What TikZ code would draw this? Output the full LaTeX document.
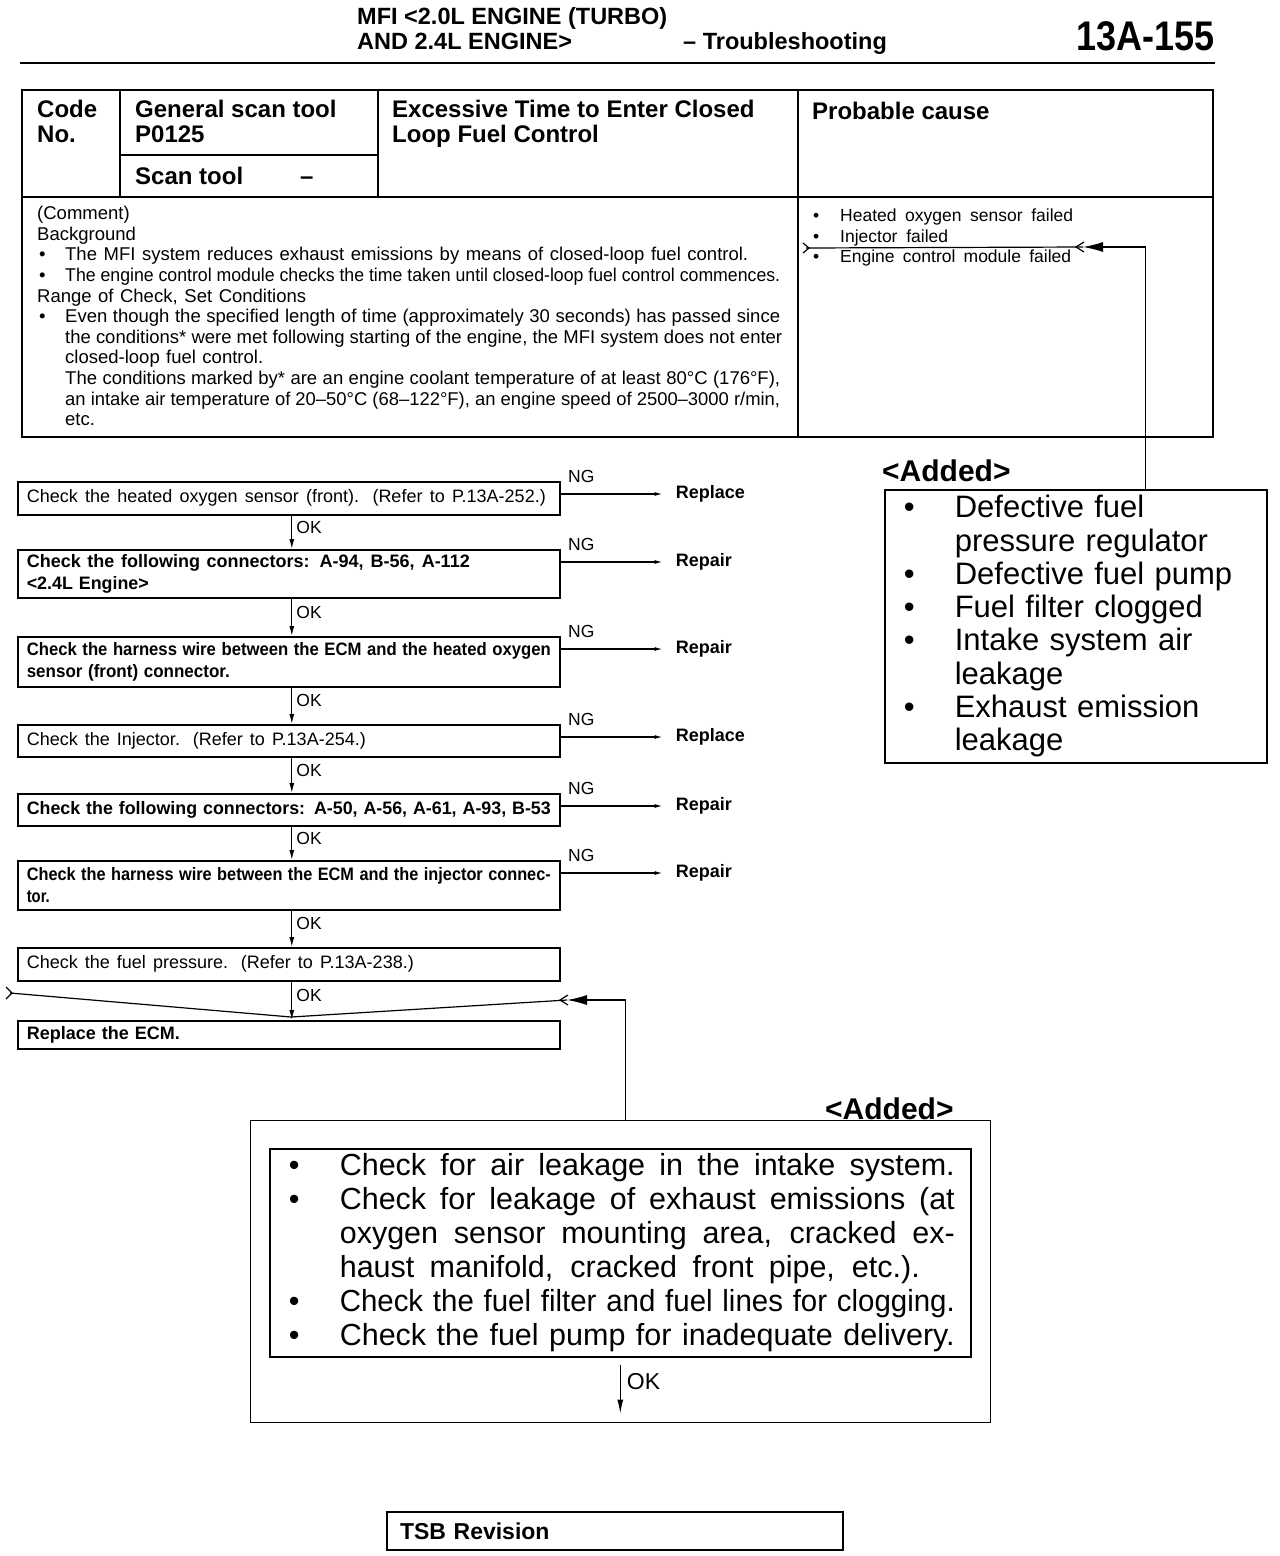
\documentclass[tikz,border=0pt]{standalone}
\usepackage{fontspec}
\setmainfont{Liberation Sans}
\usepackage{graphicx}
\usetikzlibrary{arrows.meta,calc}

\newlength\jlw
% set one printed line to a given width (spread the spaces, or squeeze)
\newcommand\jl[2]{\settowidth\jlw{#2}\ifdim\jlw>#1pt\resizebox{#1pt}{\height}{#2}\else\makebox[#1pt][s]{\spaceskip=0pt\xspaceskip=0pt #2}\fi}
\newcommand\itm[2]{\makebox[#1][l]{\hspace*{#2}\textbullet}}

\tikzset{
  ttl/.style={inner sep=0pt, anchor=base west, font=\bfseries\fontsize{23.5}{24}\selectfont},
  hd/.style={inner sep=0pt, anchor=base west, font=\bfseries\fontsize{24}{25}\selectfont},
  note/.style={inner sep=0pt, anchor=north west, align=left},
  tbl/.style={line width=1.8pt},
  chk/.style={draw, line width=1.6pt, anchor=north west, minimum width=542pt, text width=524pt,
    inner xsep=9pt, inner ysep=0pt, align=left, font=\fontsize{18}{21.5}\selectfont},
  chkb/.style={chk, font=\bfseries\fontsize{18}{21.5}\selectfont},
  okarrow/.style={-{Latex[length=10pt,width=5pt]}, line width=1.2pt},
  ngarrow/.style={-{Latex[length=8pt,width=4pt]}, line width=1.2pt, shorten >=13pt},
  lbl/.style={inner sep=0pt, font=\fontsize{17.5}{18}\selectfont},
  act/.style={inner sep=0pt, anchor=west, font=\bfseries\fontsize{18}{18}\selectfont},
  addbox/.style={draw, line width=1.6pt, anchor=north west, inner xsep=7pt, inner ysep=0pt, align=left},
  addlbl/.style={inner sep=0pt, anchor=base west, font=\bfseries\fontsize{30}{30}\selectfont},
  insmark/.style={line width=1.2pt}
}

\begin{document}
\begin{tikzpicture}[x=1pt, y=-1pt]
\fill[white] (0,0) rectangle (1280,1556);
\useasboundingbox (0,0) rectangle (1280,1556);

% Page header
\node[ttl] (head1) at (357,24) {MFI <2.0L ENGINE (TURBO)};
\node[ttl] (head2) at (357,49) {AND 2.4L ENGINE>};
\node[ttl] (head3) at (683,49) {– Troubleshooting};
\node[inner sep=0pt, anchor=base east, font=\bfseries\fontsize{36}{36}\selectfont] (page) at (1215,50) {\scalebox{1}[1.15]{13A-155}};
\draw[line width=2.5pt] (20,63) -- (1215,63);

% Code table
\draw[tbl] (22,90) rectangle (1213,437);
\draw[tbl] (22,197) -- (1213,197);
\draw[tbl] (120,90) -- (120,197) (378,90) -- (378,197) (798,90) -- (798,437);
\draw[tbl] (120,155) -- (378,155);
\node[hd] (code1) at (37,117) {Code};
\node[hd] (code2) at (37,142) {No.};
\node[hd] (gen1) at (135,117) {General scan tool};
\node[hd] (gen2) at (135,142) {P0125};
\node[hd] (scan1) at (135,184) {Scan tool};
\node[hd] (scan2) at (300,184) {–};
\node[hd] (title1) at (392,117) {Excessive Time to Enter Closed};
\node[hd] (title2) at (392,142) {Loop Fuel Control};
\node[hd] (cause) at (812,119) {Probable cause};

% Comment
\node[note, font=\fontsize{18.5}{20.6}\selectfont] (comment) at (37,206) {%
(Comment)\\
Background\\
\itm{28pt}{2pt}\jl{683}{The MFI system reduces exhaust emissions by means of closed-loop fuel control.}\\
\itm{28pt}{2pt}\jl{715}{The engine control module checks the time taken until closed-loop fuel control commences.}\\
\jl{269}{Range of Check, Set Conditions}\\
\itm{28pt}{2pt}\jl{715}{Even though the specified length of time (approximately 30 seconds) has passed since}\\
\hspace*{28pt}\jl{717}{the conditions* were met following starting of the engine, the MFI system does not enter}\\
\hspace*{28pt}\jl{198}{closed-loop fuel control.}\\
\hspace*{28pt}\jl{715}{The conditions marked by* are an engine coolant temperature of at least 80°C (176°F),}\\
\hspace*{28pt}\jl{715}{an intake air temperature of 20–50°C (68–122°F), an engine speed of 2500–3000 r/min,}\\
\hspace*{28pt}etc.};

% Probable causes
\node[note, font=\fontsize{17.5}{20.5}\selectfont] (causes) at (808,209) {%
\itm{32pt}{5pt}\jl{233}{Heated oxygen sensor failed}\\
\itm{32pt}{5pt}\jl{108}{Injector failed}\\
\itm{32pt}{5pt}\jl{231}{Engine control module failed}};

% Added causes
\node[addlbl] (added1) at (882,481) {<Added>};
\node[addbox, minimum width=382pt, minimum height=273pt, text width=368pt,
  font=\fontsize{31}{33.3}\selectfont] (extra) at (884,489) {%
\itm{63pt}{12pt}Defective fuel\\
\hspace*{63pt}pressure regulator\\
\itm{63pt}{12pt}Defective fuel pump\\
\itm{63pt}{12pt}Fuel filter clogged\\
\itm{63pt}{12pt}Intake system air\\
\hspace*{63pt}leakage\\
\itm{63pt}{12pt}Exhaust emission\\
\hspace*{63pt}leakage};

\coordinate (insL) at (806,248);
\coordinate (insR) at (1083,247);
\draw[insmark, -{Latex[length=20pt,width=10pt]}] ([xshift=70pt]extra.north) |- (insR);
\draw[insmark] (insR) -- (insL);
\draw[insmark] ([xshift=1pt]insR) ++(0,-5) -- ++(-8,5) -- ++(8,5);
\draw[insmark] (insL) ++(-3,-5) -- ++(6,5) -- ++(-6,5);

% Check sequence
\node[chk, minimum height=33pt] (c1) at (17,481) {\jl{519}{Check the heated oxygen sensor (front). (Refer to P.13A-252.)}};
\node[chkb, minimum height=48pt] (c2) at (17,549) {\jl{443}{Check the following connectors: A-94, B-56, A-112}\\\jl{122}{<2.4L Engine>}};
\node[chkb, minimum height=50pt] (c3) at (17,636) {\jl{524}{Check the harness wire between the ECM and the heated oxygen}\\\jl{203}{sensor (front) connector.}};
\node[chk, minimum height=32pt] (c4) at (17,724) {\jl{339}{Check the Injector. (Refer to P.13A-254.)}};
\node[chkb, minimum height=32pt] (c5) at (17,793) {\jl{524}{Check the following connectors: A-50, A-56, A-61, A-93, B-53}};
\node[chkb, minimum height=49pt] (c6) at (17,860) {\jl{524}{Check the harness wire between the ECM and the injector connec-}\\\jl{23}{tor.}};
\node[chk, minimum height=33pt] (c7) at (17,947) {\jl{387}{Check the fuel pressure. (Refer to P.13A-238.)}};
\node[chkb, minimum height=28pt] (c8) at (17,1020) {\jl{153}{Replace the ECM.}};

\foreach \a/\b in {c1/c2,c2/c3,c3/c4,c4/c5,c5/c6,c6/c7,c7/c8}
  \draw[okarrow] ([xshift=3pt]\a.south) -- ([xshift=3pt]\b.north)
    node[lbl, pos=0.36, anchor=west, xshift=4pt] {OK};

\foreach \i/\a in {1/Replace,2/Repair,3/Repair,4/Replace,5/Repair,6/Repair}{
  \node[act] (act\i) at ([xshift=115pt,yshift=-13pt]c\i.north east) {\a};
  \draw[ngarrow] ([yshift=-13pt]c\i.north east) -- (act\i.west)
    node[lbl, pos=0, anchor=south west, xshift=7pt, yshift=11pt] {NG};
}

% Added checks, merged in before the ECM
\node[addlbl] (added2) at (825,1119) {<Added>};
\node[draw, line width=1.4pt, anchor=north west, minimum width=740pt, minimum height=302pt, inner sep=0pt] (fix) at (250,1120) {};
\node[addbox, minimum width=701pt, minimum height=208pt, text width=687pt,
  font=\fontsize{30.5}{34}\selectfont] (fixlist) at (269,1148) {%
\itm{63pt}{12pt}\jl{615}{Check for air leakage in the intake system.}\\
\itm{63pt}{12pt}\jl{615}{Check for leakage of exhaust emissions (at}\\
\hspace*{63pt}\jl{615}{oxygen sensor mounting area, cracked ex-}\\
\hspace*{63pt}\jl{580}{haust manifold, cracked front pipe, etc.).}\\
\itm{63pt}{12pt}\jl{615}{Check the fuel filter and fuel lines for clogging.}\\
\itm{63pt}{12pt}\jl{615}{Check the fuel pump for inadequate delivery.}};
\coordinate (fixend) at ([yshift=-56pt]fixlist.south);
\draw[-{Latex[length=14pt,width=6pt]}, line width=1.2pt, shorten <=7pt] (fixlist.south) -- (fixend)
  node[inner sep=0pt, pos=0.43, anchor=west, xshift=6pt, font=\fontsize{23}{24}\selectfont] {OK};

\coordinate (mrgL) at (10,993);
\coordinate (mrgM) at (291,1017);
\coordinate (mrgR) at (567,1000);
\draw[insmark, -{Latex[length=20pt,width=10pt]}] ([xshift=5pt]fix.north) |- (mrgR);
\draw[insmark] (mrgR) -- (mrgM) -- (mrgL);
\draw[insmark] ([xshift=1pt]mrgR) ++(0,-5) -- ++(-8,5) -- ++(8,5);
\draw[insmark] (mrgL) ++(-4,-6) -- ++(6,6) -- ++(-6,6);

% Footer
\node[draw, line width=2pt, anchor=north west, minimum width=456pt, minimum height=38pt, text width=430pt,
  inner xsep=13pt, font=\bfseries\fontsize{23}{24}\selectfont] (tsb) at (386,1511) {TSB Revision};
\end{tikzpicture}
\end{document}
